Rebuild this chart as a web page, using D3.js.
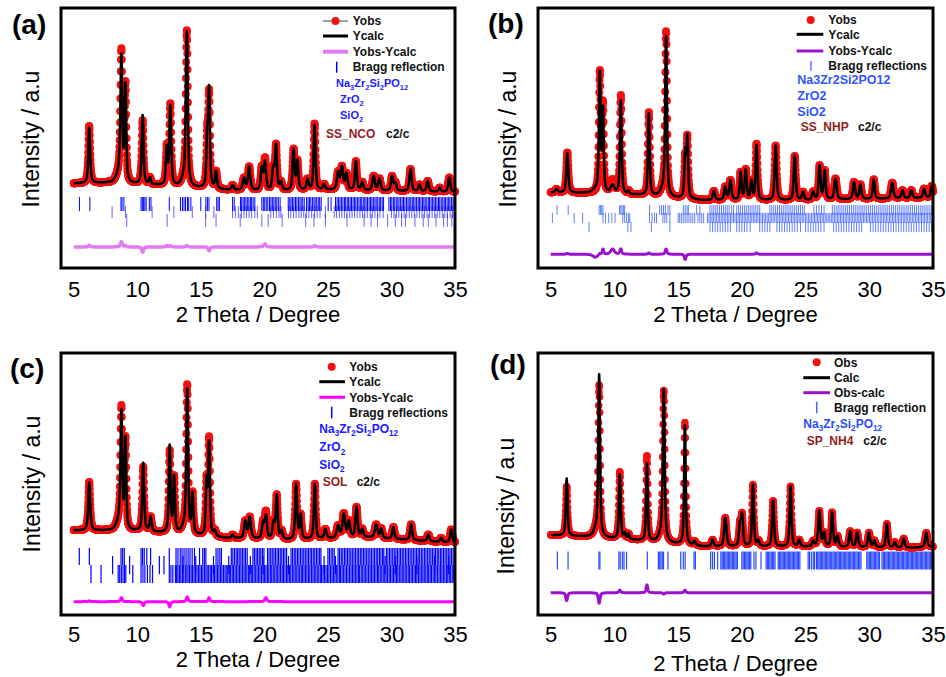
<!DOCTYPE html>
<html>
<head>
<meta charset="utf-8">
<script src="https://cdn.jsdelivr.net/npm/d3@7"></script>
<style>
  body { margin: 0; background: #fff; }
  svg { display: block; }
</style>
</head>
<body>
<svg id="fig" width="946" height="677"></svg>
<script>
// ---------- data ----------
const xTicks = [5, 10, 15, 20, 25, 30, 35];

// Background points [2θ, intensity] for each refinement
const bgA = [[5,32.5],[7.5,32.7],[11.5,31.8],[17,30],[20,29.5],[25,30],[30,29.6],[35,29.2]];
const bgB = [[5,29],[8,28.8],[12,28],[17,26],[25,26],[35,27]];
const bgC = [[5,32.3],[7,32.2],[10,32],[13,31],[17,29.3],[22,28.6],[28,29.6],[35,27.5]];
const bgD = [[5,30.5],[7.5,29.9],[11.5,28.6],[17,26.1],[20,26],[25,26],[33,25.6],[35,26]];

// Reflections [2θ, observed height, calculated height, FWHM]
const peaksA = [
  [6.22,22,21.3,0.17],[8.55,3,3,0.5],[8.75,49,47,0.18],[9.07,37,36.5,0.15],[10.42,24.5,26.5,0.17],
  [11.0,2.5,2.5,0.16],[12.32,14.5,14,0.16],[12.6,31,30.5,0.17],[13.7,3,3,0.5],[13.9,58.5,58,0.18],
  [15.5,18,18,0.15],[15.65,35.5,37,0.16],[16.2,6.5,6.5,0.17],[17.5,1.8,1.8,0.2],[18.4,4.5,4.5,0.22],
  [18.8,9,9,0.22],[19.8,8.5,8.5,0.2],[20.05,12,10.8,0.2],[20.7,8,8,0.2],[20.92,17,17,0.18],
  [21.3,3,3,0.2],[22.3,15.5,15.5,0.18],[22.6,11,11,0.18],[23.4,4,4,0.2],[23.95,25.5,25,0.17],
  [24.7,2,2,0.2],[25.8,6.5,6.5,0.22],[26.1,8.5,8.5,0.22],[26.45,6,6,0.22],[27.2,11,11,0.18],
  [27.7,3,3,0.2],[28.6,5.5,5.5,0.22],[29.05,4.5,4.5,0.22],[30.05,5.5,5.5,0.2],[30.3,3,3,0.2],
  [31.5,8.5,8.5,0.2],[32.2,2.5,2.5,0.2],[32.85,4,4,0.2],[33.8,1.5,1.5,0.2],[34.55,5.5,5.5,0.2]
];
const peaksB = [
  [5.45,1.2,1.2,0.25],[6.3,15.5,15.2,0.18],[8.5,0,1.2,0.45],[8.85,46,45.5,0.16],[9.1,33,31,0.14],
  [9.85,5,3,0.35],[10.5,38,36,0.16],[11.1,1.2,1.2,0.15],[12.7,32,31.5,0.16],[13.85,3,3,0.5],
  [14.05,62,60,0.16],[15.55,15,17,0.15],[15.72,23,23,0.15],[17.8,3.5,3.5,0.2],[18.7,5,5,0.2],
  [19.1,7.5,7.5,0.2],[19.9,10.5,10.5,0.17],[20.3,11.5,11.5,0.18],[20.75,7,7,0.17],[21.15,21.5,21,0.17],
  [22.65,21,21,0.18],[24.15,17,17,0.18],[24.8,3,3,0.2],[25.6,3,3,0.2],[26.1,13,13,0.18],
  [26.5,11,11,0.18],[27.35,8,8,0.22],[28.8,6.5,6.5,0.2],[29.3,5.5,5.5,0.2],[30.35,7.5,7.5,0.18],
  [31.8,6,6,0.22],[32.6,3,3,0.2],[33.3,3,3,0.2],[34.3,3.5,3.5,0.2],[34.9,4.5,4.5,0.2]
];
const peaksC = [
  [6.22,18.5,18.2,0.18],[8.55,3,3,0.5],[8.75,45,43.5,0.17],[9.07,34,34,0.15],[10.47,24.5,26,0.17],
  [11.05,5.5,5.5,0.18],[12.55,31,33,0.16],[12.9,21,21,0.16],[13.75,3,3,0.5],[13.93,55,53.2,0.17],
  [14.35,15,15,0.16],[15.45,20,20,0.15],[15.65,36.5,35,0.16],[16.1,2,2,0.2],[17.5,1.2,1.2,0.2],
  [18.5,6.5,6.5,0.22],[18.85,8,8,0.22],[19.9,6,6,0.2],[20.12,10,8.5,0.2],[20.72,6,6,0.2],
  [20.97,16.5,16.5,0.18],[21.35,3,3,0.2],[22.5,21,21,0.18],[22.85,9,9,0.18],[23.97,21,21,0.17],
  [24.8,3.5,3.5,0.22],[25.8,4.5,4.5,0.25],[26.25,9,9,0.25],[26.65,6,6,0.22],[27.25,11.5,11.5,0.2],
  [27.7,3,3,0.2],[28.8,5,5,0.25],[29.2,3.5,3.5,0.2],[30.15,4.5,4.5,0.2],[31.55,6,6,0.2],
  [32.9,2.5,2.5,0.2],[33.9,1.5,1.5,0.2],[34.7,5,5,0.2]
];
const peaksD = [
  [6.25,18.8,21.8,0.16],[8.6,3,3,0.5],[8.8,56.5,60.5,0.16],[10.42,25.5,24.5,0.16],[10.8,2,2,0.15],
  [11.1,2,2,0.15],[12.55,32.5,29.5,0.15],[13.7,3,3,0.5],[13.87,56,56.5,0.17],[15.53,46.5,45.5,0.15],
  [16.3,1.5,1.5,0.2],[17.7,2.5,2.5,0.2],[18.7,11,11,0.22],[19.85,8,8,0.18],[20.02,11.5,11.5,0.18],
  [20.87,23.5,23.5,0.17],[21.3,2,2,0.2],[22.45,17.5,17.5,0.18],[23.82,23,23,0.17],[24.5,2.5,2.5,0.2],
  [25.6,2,2,0.2],[26.08,13.5,13.5,0.2],[26.45,5,5,0.2],[27.08,13,13,0.18],[27.5,4,4,0.2],
  [28.5,6,6,0.2],[29.05,5.5,5.5,0.2],[29.98,5.5,5.5,0.2],[30.4,2.5,2.5,0.2],[31.38,9,9,0.18],
  [32.0,2,2,0.2],[32.7,3.5,3.5,0.2],[34.47,5.5,5.5,0.2]
];

// Bragg reflection positions (2θ) per phase
const braggA1 = [5.45,6.27,8.72,8.8,8.95,10.3,10.4,10.5,10.6,10.7,10.95,11.08,12.52,13.4,13.55,13.68,13.8,13.95,14.05,14.22,15.0,15.4,15.52,15.64,16.25,16.36,16.46,17.5,17.63,
  18.12,18.22,18.33,18.45,18.55,18.66,18.78,18.9,19.0,19.12,19.25,19.8,19.92,20.03,20.15,20.27,20.4,20.52,20.63,20.75,20.86,20.98,21.1,21.24,
  21.88,22.0,22.1,22.22,22.33,22.45,22.56,22.68,22.8,22.9,23.02,23.14,23.32,23.44,23.55,23.66,23.78,23.9,24.0,24.12,24.24,24.35,24.47,25.02,25.25,
  25.6,25.72,25.83,25.95,26.06,26.18,26.3,26.4,26.52,26.63,26.75,26.86,26.98,27.1,27.2,27.32,27.44,27.55,27.66,27.78,27.9,28.0,28.12,28.24,28.35,28.46,28.58,28.7,28.8,28.92,29.04,29.15,29.27,29.38,
  29.8,29.92,30.03,30.15,30.26,30.38,30.5,30.6,30.72,30.84,30.95,31.06,31.18,31.3,31.4,31.52,31.64,31.75,31.86,31.98,32.1,32.2,32.32,32.44,32.55,32.66,32.78,32.9,33.0,33.12,33.24,33.35,33.46,33.58,33.7,33.8,33.92,34.04,34.15,34.26,34.38,34.5,34.6,34.72,34.84,34.95];
const braggA2 = [8.02,9.07,11.17,12.88,14.33,15.38,16.03,17.5,17.72,17.95,18.2,18.4,18.6,18.8,19.0,19.25,19.45,20.5,20.72,20.95,21.15,21.3,21.9,22.08,22.3,22.5,22.72,22.9,23.1,23.3,23.5,23.72,23.95,24.15,24.38,24.8,
  25.5,25.68,25.9,26.1,26.3,26.5,26.72,26.9,27.1,27.3,27.52,27.72,27.9,28.1,28.32,28.5,28.7,28.92,29.1,29.35,30.0,30.2,30.4,30.58,30.8,31.0,31.2,31.4,31.6,31.8,32.0,32.2,32.4,32.6,32.8,33.0,33.2,33.4,33.6,33.8,34.0,34.2,34.4,34.62,34.8];
const braggA3 = [9.17,12.35,15.38,16.2,18.1,19.8,20.3,21.4,23.25,23.9,24.8,26.5,27.85,28.4,28.9,29.7,30.3,30.8,31.1,31.85,32.5,32.9,33.5,34.1,34.4,34.75];

const braggB1 = [5.5,6.37,8.8,8.9,9.0,9.1,10.4,10.5,10.6,10.7,10.8,12.76,13.55,13.7,13.85,14.0,14.2,14.35,15.4,15.55,15.7,15.8,16.45,16.7,17.5,17.65,17.8,17.95,18.1,18.25,18.4,18.55,18.7,18.85,19.0,19.2,19.35,
  19.6,19.75,19.9,20.05,20.2,20.35,20.5,20.65,20.8,20.95,21.1,21.25,21.4,22.2,22.35,22.5,22.65,22.8,22.95,23.1,23.25,23.4,23.55,23.7,23.85,24.0,24.15,24.3,24.45,24.6,24.75,24.9,25.65,25.85,26.05,26.25,26.45,
  27.1,27.25,27.4,27.55,27.7,27.85,28.0,28.15,28.3,28.45,28.6,28.75,28.9,29.05,29.2,29.35,29.5,29.65,29.8,29.95,30.1,30.25,30.4,30.55,30.7,30.85,31.0,31.15,31.3,31.45,31.6,31.75,31.9,32.05,32.2,32.35,32.5,32.65,32.8,32.95,33.1,33.25,33.4,33.55,33.7,33.85,34.0,34.15,34.3,34.45,34.6,34.75,34.9];
const braggB2 = [5.13,6.84,7.5,9.1,9.3,9.55,9.8,10.05,10.65,10.8,10.95,11.1,11.2,12.75,12.95,13.15,13.3,13.8,13.95,14.1,14.35,15.0,15.12,15.25,15.4,15.55,15.7,15.85,16.0,16.15,16.3,16.55,16.7,16.85,17.0,
  17.3,17.42,17.55,17.66,17.78,17.9,18.02,18.14,18.26,18.38,18.5,18.62,18.74,18.86,18.98,19.1,19.22,19.34,19.46,19.58,19.7,19.82,19.94,20.06,20.18,20.3,20.42,20.54,20.66,20.78,20.9,21.02,21.14,21.26,21.38,21.5,21.62,21.74,21.86,21.98,
  22.1,22.22,22.34,22.46,22.58,22.7,22.82,22.94,23.06,23.18,23.3,23.42,23.54,23.66,23.78,23.9,24.02,24.14,24.26,24.38,24.5,24.62,24.74,24.86,24.98,25.1,25.22,25.34,25.46,25.58,25.7,25.82,25.94,26.06,26.18,26.3,26.42,26.54,26.66,26.78,26.9,
  27.02,27.14,27.26,27.38,27.5,27.62,27.74,27.86,27.98,28.1,28.22,28.34,28.46,28.58,28.7,28.82,28.94,29.06,29.18,29.3,29.42,29.54,29.66,29.78,29.9,30.02,30.14,30.26,30.38,30.5,30.62,30.74,30.86,30.98,
  31.1,31.22,31.34,31.46,31.58,31.7,31.82,31.94,32.06,32.18,32.3,32.42,32.54,32.66,32.78,32.9,33.02,33.14,33.26,33.38,33.5,33.62,33.74,33.86,33.98,34.1,34.22,34.34,34.46,34.58,34.7,34.82,34.94];
const braggB3 = [8.0,11.05,11.3,12.9,14.35,17.5,17.7,17.9,18.1,18.3,18.5,18.7,18.9,19.1,19.6,19.8,20.0,20.2,20.4,20.65,21.4,21.6,21.8,22.0,22.2,22.75,22.95,23.15,23.35,23.55,23.75,23.95,24.15,24.35,24.6,
  25.0,25.2,25.4,25.6,25.8,26.0,26.2,26.45,27.2,27.4,27.6,27.8,28.0,28.2,28.4,28.6,28.8,29.0,29.2,29.4,30.1,30.3,30.5,30.7,30.9,31.1,31.3,31.5,31.7,31.9,32.1,32.3,32.5,32.7,32.9,33.1,33.3,33.5,33.7,33.9,34.1,34.3,34.5,34.7,34.9];

const braggC1 = [5.44,6.23,8.72,8.85,8.98,10.3,10.42,10.55,10.75,11.05,12.52,13.05,13.2,13.38,13.52,13.68,13.84,14.0,14.15,14.32,14.5,14.9,15.15,15.28,15.4,16.2,16.35,16.5,16.62,
  17.4,17.52,17.65,17.78,17.9,18.02,18.15,18.27,18.4,18.52,18.65,19.1,19.22,19.35,19.47,19.6,19.72,19.85,19.97,20.25,20.37,20.5,20.62,20.75,20.87,21.0,21.12,21.25,21.37,21.5,21.62,21.75,
  22.1,22.22,22.35,22.47,22.6,22.72,22.85,22.97,23.1,23.22,23.35,23.47,23.6,23.72,23.85,23.97,24.1,24.22,24.35,24.45,25.0,25.12,25.25,25.38,25.5,
  25.8,25.92,26.05,26.17,26.3,26.42,26.55,26.67,26.8,26.92,27.05,27.17,27.3,27.42,27.55,27.67,27.8,27.92,28.05,28.17,28.3,28.42,28.55,28.67,28.8,28.92,29.05,29.17,29.3,29.4,
  29.6,29.72,29.85,29.97,30.1,30.22,30.35,30.47,30.6,30.72,30.85,30.97,31.1,31.22,31.35,31.47,31.6,31.72,31.85,31.97,32.1,32.22,32.35,32.47,32.6,32.72,32.85,32.97,
  33.1,33.22,33.35,33.47,33.6,33.72,33.85,33.97,34.1,34.22,34.35,34.47,34.6,34.72,34.85,34.97];
const braggC2 = [6.36,7.15,8.5,8.62,8.75,8.88,9.0,9.1,9.65,10.3,10.45,10.6,10.8,11.0,11.2,12.52,12.65,12.8,
  13.0,13.1,13.2,13.32,13.43,13.55,13.66,13.78,13.9,14.0,14.12,14.24,14.35,14.47,14.58,14.7,14.82,14.93,15.05,15.16,15.28,15.4,15.5,15.62,15.74,15.85,15.97,16.08,16.2,16.32,16.43,16.55,16.66,16.78,16.9,
  17.0,17.12,17.24,17.35,17.47,17.58,17.7,17.82,17.93,18.05,18.16,18.28,18.4,18.5,18.62,18.74,18.85,18.97,19.08,19.2,19.32,19.43,19.55,19.66,19.78,19.9,20.0,20.12,20.24,20.35,20.47,20.58,20.7,20.82,20.93,
  21.05,21.16,21.28,21.4,21.5,21.62,21.74,21.85,21.97,22.08,22.2,22.32,22.43,22.55,22.66,22.78,22.9,23.0,23.12,23.24,23.35,23.47,23.58,23.7,23.82,23.93,24.05,24.16,24.28,24.4,24.5,24.62,24.74,24.85,24.97,
  25.08,25.2,25.32,25.43,25.55,25.66,25.78,25.9,26.0,26.12,26.24,26.35,26.47,26.58,26.7,26.82,26.93,27.05,27.16,27.28,27.4,27.5,27.62,27.74,27.85,27.97,28.08,28.2,28.32,28.43,28.55,28.66,28.78,28.9,
  29.0,29.12,29.24,29.35,29.47,29.58,29.7,29.82,29.93,30.05,30.16,30.28,30.4,30.5,30.62,30.74,30.85,30.97,31.08,31.2,31.32,31.43,31.55,31.66,31.78,31.9,32.0,32.12,32.24,32.35,32.47,32.58,32.7,32.82,32.93,
  33.05,33.16,33.28,33.4,33.5,33.62,33.74,33.85,33.97,34.08,34.2,34.32,34.43,34.55,34.66,34.78,34.9];
const braggC3 = [8.06,9.4,11.74,12.1,13.6,14.6,16.0,17.2,18.9,19.9,21.9,24.7,25.6,29.5,30.3,32.0,33.4,34.5];

const braggD1 = [5.52,6.36,8.78,8.86,10.35,10.45,10.62,10.75,10.95,12.58,13.45,13.55,13.65,13.75,13.85,14.2,15.2,15.4,15.55,16.25,16.35,17.55,17.7,17.85,18.1,
  18.35,18.45,18.55,18.65,18.75,18.85,18.95,19.05,19.15,19.25,19.35,19.45,19.55,19.65,20.0,20.1,20.2,20.3,20.4,20.5,20.6,20.7,20.95,21.1,21.5,
  21.9,22.0,22.1,22.2,22.3,22.4,22.5,22.6,22.85,22.95,23.05,23.15,23.25,23.35,23.45,23.55,23.65,23.75,23.85,23.95,24.05,24.15,24.25,24.35,24.45,24.55,
  25.2,25.3,25.45,25.6,25.7,25.85,25.95,26.05,26.15,26.25,26.35,26.45,26.55,26.65,26.75,26.85,26.95,27.05,27.15,27.25,27.35,27.45,27.55,27.65,27.75,27.85,27.95,
  28.05,28.15,28.25,28.35,28.45,28.55,28.65,28.75,28.85,28.95,29.05,29.15,29.25,29.35,29.8,29.9,30.0,30.1,30.2,30.3,30.4,30.5,30.6,30.7,30.8,
  31.0,31.1,31.2,31.3,31.4,31.5,31.6,31.7,31.8,31.9,32.0,32.1,32.2,32.3,32.4,32.5,32.6,32.7,32.8,32.9,33.0,33.1,33.2,33.3,33.4,33.5,33.6,33.7,33.8,33.9,
  34.0,34.1,34.2,34.3,34.4,34.5,34.6,34.7,34.8,34.9];

// ---------- layout & styling ----------
const FONT = "'Liberation Sans', Arial, Helvetica, sans-serif";
const RED = "#f41010";
const DARKRED = "#931c1c";
const ETA = 0.6; // pseudo-Voigt Lorentzian fraction
const AXIS_FS = 22;

const panels = [
  { box:{l:61,t:8,r:455,b:268}, label:"(a)", labelXY:[12,34], ylabX:38.5, ylabY:139, tickPad:12.9, titleBase:321.5,
    bg:bgA, peaks:peaksA, rows:[braggA1,braggA2,braggA3],
    bands:[[27.3,21.9],[23.8,19.2],[20.8,15.8]], rowOpacity:[1,0.6,0.6], tickColor:"#0000ff", tickW:1,
    diffZero:8.1, diffColor:"#e07bf2", diffW:3.5, dotR:4,
    legend:{ lx0:323, lx1:348, tx:352.7, items:[
      {kind:"dotline", y:21, text:"Yobs"},
      {kind:"line", y:36, color:"#000", w:3, text:"Ycalc"},
      {kind:"line", y:51.7, color:"#e07bf2", w:4, text:"Yobs-Ycalc"},
      {kind:"tick", x:336.7, y0:61.7, y1:72.7, color:"#0000dd", y:66.7, text:"Bragg reflection"}],
      phaseColor:"#1e1eff", phaseSize:11, phases:[
      {x:336, y:83.3, t:"Na_3Zr_2Si_2PO_{12}"},{x:340, y:99.3, t:"ZrO_2"},{x:340, y:115, t:"SiO_2"}],
      sample:{x:326, y:133.3, t:"SS_NCO", gx:386} } },
  { box:{l:538,t:8,r:933,b:268}, label:"(b)", labelXY:[488,33], ylabX:516, ylabY:139, tickPad:12.9, titleBase:321.5,
    bg:bgB, peaks:peaksB, rows:[braggB1,braggB2,braggB3],
    bands:[[24.2,20.4],[21.2,17.3],[17.7,13.8]], rowOpacity:[0.75,0.75,0.75], tickColor:"#2f55ff", tickW:1,
    diffZero:5.3, diffColor:"#9b10cf", diffW:3, dotR:4,
    legend:{ lx0:796.7, lx1:823.3, tx:828.3, items:[
      {kind:"dot", x:810.7, y:20, text:"Yobs"},
      {kind:"line", y:34.3, color:"#000", w:3, text:"Ycalc"},
      {kind:"line", y:51, color:"#9b10cf", w:3, text:"Yobs-Ycalc"},
      {kind:"tick", x:811, y0:61, y1:70.7, color:"#5577ff", y:65.7, text:"Bragg reflections"}],
      phaseColor:"#2f55ff", phaseSize:12.5, phases:[
      {x:797.3, y:80, t:"Na3Zr2Si2PO12"},{x:797.3, y:96, t:"ZrO2"},{x:797.3, y:111.7, t:"SiO2"}],
      sample:{x:800.7, y:126.7, t:"SS_NHP", gx:858} } },
  { box:{l:61,t:353,r:455,b:615}, label:"(c)", labelXY:[10,377.5], ylabX:40, ylabY:484, tickPad:10.9, titleBase:667,
    bg:bgC, peaks:peaksC, rows:[braggC1,braggC2,braggC3],
    bands:[[25.6,19.1],[19.1,12.2],[22.5,15.6]], rowOpacity:[1,1,1], tickColor:"#0000ff", tickW:1.2,
    diffZero:5.1, diffColor:"#ff00ff", diffW:3, dotR:4,
    legend:{ lx0:319.3, lx1:345, tx:349.3, items:[
      {kind:"dot", x:331.7, y:366.7, text:"Yobs"},
      {kind:"line", y:381.7, color:"#000", w:3, text:"Ycalc"},
      {kind:"line", y:397.3, color:"#ff00ff", w:3, text:"Yobs-Ycalc"},
      {kind:"tick", x:331.7, y0:406.7, y1:418.3, color:"#0000ff", y:412.7, text:"Bragg reflections"}],
      phaseColor:"#1a1aff", phaseSize:12, phases:[
      {x:319.3, y:428.3, t:"Na_3Zr_2Si_2PO_{12}"},{x:319.3, y:446.7, t:"ZrO_2"},{x:319.3, y:464.3, t:"SiO_2"}],
      sample:{x:322.7, y:481.7, t:"SOL", gx:356.7} } },
  { box:{l:538,t:353,r:933,b:615}, label:"(d)", labelXY:[490,374], ylabX:514, ylabY:506, tickPad:10.9, titleBase:671,
    bg:bgD, peaks:peaksD, rows:[braggD1],
    bands:[[24.2,17.4]], rowOpacity:[1], tickColor:"#2a48ff", tickW:1.2,
    diffZero:8.5, diffColor:"#9b10cf", diffW:3, dotR:3.8,
    legend:{ lx0:803.3, lx1:830, tx:834, items:[
      {kind:"dot", x:816.7, y:362.3, text:"Obs"},
      {kind:"line", y:377.7, color:"#000", w:3, text:"Calc"},
      {kind:"line", y:392.7, color:"#9b10cf", w:3, text:"Obs-calc"},
      {kind:"tick", x:816.7, y0:401.7, y1:413.3, color:"#4466ff", y:407.7, text:"Bragg reflection"}],
      phaseColor:"#2a4bff", phaseSize:12, phases:[
      {x:803.3, y:423.3, t:"Na_3Zr_2Si_2PO_{12}"}],
      sample:{x:806.7, y:440.7, t:"SP_NH4", gx:863.3} } }
];

// ---------- helpers ----------
function pseudoVoigt(x, pos, w) {
  const u = (x - pos) / w;
  const L = 1 / (1 + 4 * u * u);
  const G = Math.exp(-4 * Math.LN2 * u * u);
  return ETA * L + (1 - ETA) * G;
}
function makeProfile(bg, peaks, col) {
  const bgScale = d3.scaleLinear().domain(bg.map(d => d[0])).range(bg.map(d => d[1])).clamp(true);
  return x => bgScale(x) + d3.sum(peaks, p => p[col] * pseudoVoigt(x, p[0], p[3]));
}
// Chemical formula with subscripts, e.g. "Na_3Zr_2Si_2PO_{12}"
function richText(textSel, str, fs) {
  const re = /_\{([^}]*)\}|_(\w)|([^_]+)/g;
  let m, shift = 0;
  while ((m = re.exec(str))) {
    const sub = m[3] === undefined;
    const txt = sub ? (m[1] || m[2]) : m[3];
    const target = sub ? fs * 0.3 : 0;
    textSel.append("tspan").attr("dy", target - shift).attr("font-size", sub ? fs * 0.68 : fs).text(txt);
    shift = target;
  }
}

const svg = d3.select("#fig");
svg.append("rect").attr("width", 946).attr("height", 677).attr("fill", "#fff");

panels.forEach(P => {
  const B = P.box;
  const x = d3.scaleLinear().domain([4, 35]).range([B.l, B.r]);
  const y = d3.scaleLinear().domain([0, 100]).range([B.b, B.t]);
  const obs = makeProfile(P.bg, P.peaks, 1);
  const calc = makeProfile(P.bg, P.peaks, 2);
  const g = svg.append("g");

  // Bragg reflection rows
  P.rows.forEach((row, i) => {
    const [top, bot] = P.bands[i];
    g.append("g").attr("stroke", P.tickColor).attr("stroke-width", P.tickW).attr("opacity", P.rowOpacity[i])
      .selectAll("line").data(row).join("line")
      .attr("x1", d => x(d)).attr("x2", d => x(d))
      .attr("y1", y(top)).attr("y2", y(bot));
  });

  // difference curve
  const fine = d3.range(5, 35.0001, 0.01);
  g.append("path").datum(fine)
    .attr("fill", "none").attr("stroke", P.diffColor).attr("stroke-width", P.diffW).attr("stroke-linejoin", "round")
    .attr("d", d3.line().x(d => x(d)).y(d => y(obs(d) - calc(d) + P.diffZero)));

  // observed points
  const grid = d3.range(5, 35.0001, 0.015);
  g.append("g").attr("fill", RED).selectAll("circle").data(grid).join("circle")
    .attr("cx", d => x(d)).attr("cy", d => y(obs(d))).attr("r", P.dotR);

  // calculated profile
  g.append("path").datum(d3.range(5, 35.0001, 0.005))
    .attr("fill", "none").attr("stroke", "#000").attr("stroke-width", 2.5).attr("stroke-linejoin", "round")
    .attr("d", d3.line().x(d => x(d)).y(d => y(calc(d))));

  // frame
  g.append("rect").attr("x", B.l).attr("y", B.t).attr("width", B.r - B.l).attr("height", B.b - B.t)
    .attr("fill", "none").attr("stroke", "#000").attr("stroke-width", 3);

  // x axis labels
  const ax = g.append("g").attr("transform", `translate(0,${B.b})`)
    .call(d3.axisBottom(x).tickValues(xTicks).tickSize(0).tickPadding(P.tickPad).tickFormat(d3.format("d")));
  ax.select(".domain").remove();
  ax.selectAll("text").attr("font-size", AXIS_FS).attr("font-family", FONT).attr("fill", "#000");

  g.append("text").attr("x", (B.l + B.r) / 2).attr("y", P.titleBase).attr("text-anchor", "middle")
    .attr("font-family", FONT).attr("font-size", AXIS_FS).text("2 Theta / Degree");
  g.append("text").attr("transform", `translate(${P.ylabX},${P.ylabY}) rotate(-90)`).attr("text-anchor", "middle")
    .attr("font-family", FONT).attr("font-size", 23).text("Intensity / a.u");
  g.append("text").attr("x", P.labelXY[0]).attr("y", P.labelXY[1])
    .attr("font-family", FONT).attr("font-size", 28).attr("font-weight", "bold").text(P.label);

  // legend
  const L = P.legend;
  const lg = g.append("g").attr("font-family", FONT).attr("font-weight", "bold");
  L.items.forEach(it => {
    if (it.kind === "dotline") {
      lg.append("line").attr("x1", L.lx0).attr("x2", L.lx1).attr("y1", it.y).attr("y2", it.y)
        .attr("stroke", "#808080").attr("stroke-width", 1.5);
      lg.append("circle").attr("cx", (L.lx0 + L.lx1) / 2).attr("cy", it.y).attr("r", 4).attr("fill", RED);
    } else if (it.kind === "dot") {
      lg.append("circle").attr("cx", it.x).attr("cy", it.y).attr("r", 4).attr("fill", RED);
    } else if (it.kind === "line") {
      lg.append("line").attr("x1", L.lx0).attr("x2", L.lx1).attr("y1", it.y).attr("y2", it.y)
        .attr("stroke", it.color).attr("stroke-width", it.w);
    } else if (it.kind === "tick") {
      lg.append("line").attr("x1", it.x).attr("x2", it.x).attr("y1", it.y0).attr("y2", it.y1)
        .attr("stroke", it.color).attr("stroke-width", 1.5);
    }
    lg.append("text").attr("x", L.tx).attr("y", it.y + 12 * 0.35).attr("font-size", 12).attr("fill", "#111").text(it.text);
  });
  L.phases.forEach(ph => {
    const t = lg.append("text").attr("x", ph.x).attr("y", ph.y + L.phaseSize * 0.35).attr("fill", L.phaseColor);
    richText(t, ph.t, L.phaseSize);
  });
  lg.append("text").attr("x", L.sample.x).attr("y", L.sample.y + 12 * 0.35).attr("font-size", 12)
    .attr("fill", DARKRED).text(L.sample.t);
  lg.append("text").attr("x", L.sample.gx).attr("y", L.sample.y + 12 * 0.35).attr("font-size", 12)
    .attr("fill", "#111").text("c2/c");
});
</script>
</body>
</html>
